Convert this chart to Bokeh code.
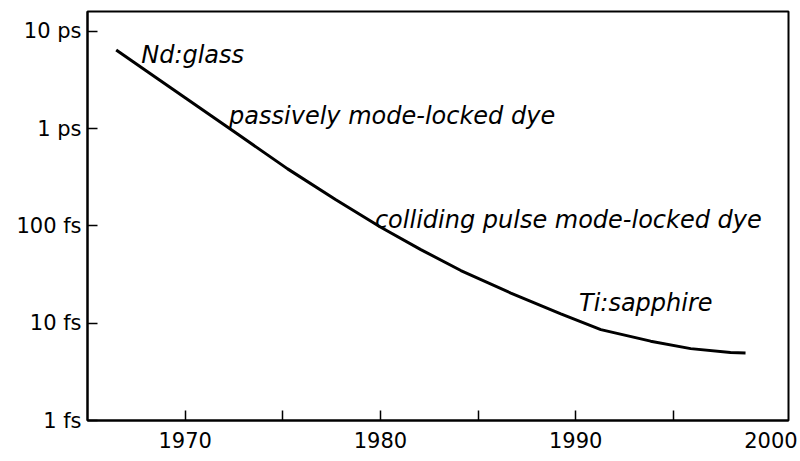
from bokeh.plotting import figure
from bokeh.models import FixedTicker, Range1d, CustomJSTickFormatter
from bokeh.core.properties import value
from bokeh.embed import file_html
from bokeh.resources import INLINE

# curve: year vs shortest pulse duration (seconds)
years = [1966.47, 1968.26, 1970.0, 1972.61, 1975.25, 1977.72, 1980.02, 1982.07,
         1984.12, 1986.68, 1989.24, 1991.29, 1993.84, 1995.89, 1997.93, 1998.7]
pulse = [6.44e-12, 3.63e-12, 2.08e-12, 9.0e-13, 3.86e-13, 1.86e-13, 9.68e-14, 5.71e-14,
         3.48e-14, 2.04e-14, 1.25e-14, 8.6e-15, 6.54e-15, 5.48e-15, 4.99e-15, 4.95e-15]

# annotations
label_text = ["Nd:glass", "passively mode-locked dye", "colliding pulse mode-locked dye", "Ti:sapphire"]
label_year = [1967.75, 1972.25, 1979.72, 1990.17]
label_pulse = [5.77e-12, 1.36e-12, 1.15e-13, 1.6e-14]

# ticks
x_major = [1970, 1980, 1990, 2000]
x_minor = [1970, 1975, 1980, 1985, 1990, 1995]
y_major = [1e-15, 1e-14, 1e-13, 1e-12, 1e-11]
y_labels = ["1 fs", "10 fs", "100 fs", "1 ps", "10 ps"]

p = figure(width=800, height=461, y_axis_type="log",
           x_range=Range1d(1965, 2000.9), y_range=Range1d(1e-15, 1.6e-11),
           output_backend="svg", toolbar_location=None,
           min_border_left=87, min_border_right=12, min_border_top=11, min_border_bottom=41)

p.grid.visible = False
p.outline_line_color = "black"
p.outline_line_width = 2
p.background_fill_color = "white"
p.border_fill_color = "white"

p.line(years, pulse, line_color="black", line_width=3)

p.text(x=label_year, y=label_pulse, text=label_text,
       text_font=value("DejaVu Sans"), text_font_style="italic",
       text_font_size="24px", text_color="black",
       text_align="left", text_baseline="alphabetic")

xa = p.xaxis[0]
xa.ticker = FixedTicker(ticks=x_major, minor_ticks=x_minor)
xa.major_tick_in = 0
xa.major_tick_out = 0
xa.minor_tick_in = 10
xa.minor_tick_out = 0
xa.minor_tick_line_width = 1.5
xa.minor_tick_line_color = "black"
xa.axis_line_width = 2
xa.axis_line_color = "black"
xa.major_label_text_font = "DejaVu Sans"
xa.major_label_text_font_size = "21px"
xa.major_label_text_color = "black"
xa.major_label_standoff = 11

ya = p.yaxis[0]
ya.ticker = FixedTicker(ticks=y_major, minor_ticks=[])
ya.major_tick_in = 10
ya.major_tick_out = 0
ya.major_tick_line_width = 1.5
ya.major_tick_line_color = "black"
ya.minor_tick_in = 0
ya.minor_tick_out = 0
ya.axis_line_width = 2
ya.axis_line_color = "black"
ya.major_label_text_font = "DejaVu Sans"
ya.major_label_text_font_size = "21px"
ya.major_label_text_color = "black"
ya.major_label_standoff = 6
ya.formatter = CustomJSTickFormatter(args=dict(labels=y_labels), code="""
const e = Math.round(Math.log10(tick)) + 15;
return (e >= 0 && e < labels.length) ? labels[e] : "";
""")

open("out.html", "w").write(file_html(p, INLINE))
